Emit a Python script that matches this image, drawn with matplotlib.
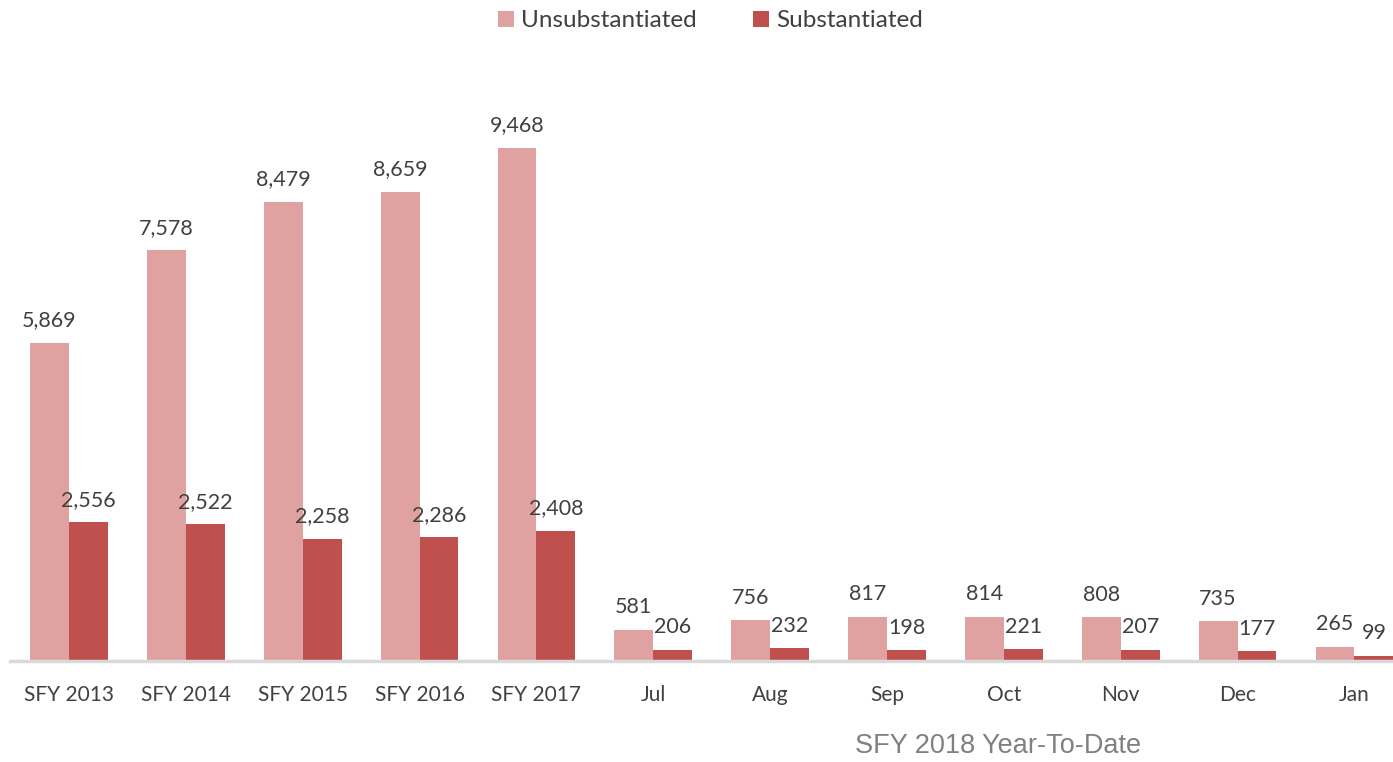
import matplotlib.pyplot as plt
import numpy as np

categories = ['SFY 2013', 'SFY 2014', 'SFY 2015', 'SFY 2016', 'SFY 2017',
              'Jul', 'Aug', 'Sep', 'Oct', 'Nov', 'Dec', 'Jan']
unsubstantiated = [5869, 7578, 8479, 8659, 9468, 581, 756, 817, 814, 808, 735, 265]
substantiated = [2556, 2522, 2258, 2286, 2408, 206, 232, 198, 221, 207, 177, 99]

c_unsub = '#E0A1A1'
c_sub = '#C0504D'
txt = '#404040'

plt.rcParams['font.family'] = ['Lato', 'DejaVu Sans']

fig = plt.figure(figsize=(13.93, 7.62), dpi=100)
ax = fig.add_axes([10 / 1393, 101 / 762, 1 - 10 / 1393, 569 / 762])

x = np.arange(len(categories))
w = 0.333
b1 = ax.bar(x - w / 2, unsubstantiated, w, color=c_unsub, label='Unsubstantiated')
b2 = ax.bar(x + w / 2, substantiated, w, color=c_sub, label='Substantiated')

for bars, vals in [(b1, unsubstantiated), (b2, substantiated)]:
    for b, v in zip(bars, vals):
        ax.annotate(f'{v:,}', (b.get_x() + b.get_width() / 2, v),
                    xytext=(0, 9), textcoords='offset points',
                    ha='center', va='bottom', fontsize=15.5, color=txt)

ax.set_xlim(-0.505, 11.33)
ax.set_ylim(0, 10500)
ax.set_xticks(x)
ax.set_xticklabels(categories, fontsize=15, color=txt)
ax.tick_params(axis='x', length=0, pad=17)
ax.set_yticks([])
for s in ['top', 'right', 'left']:
    ax.spines[s].set_visible(False)
ax.spines['bottom'].set_color('#D9D9D9')
ax.spines['bottom'].set_linewidth(2.5)

fig.legend(loc='upper center', bbox_to_anchor=(0.51, 1.015), ncol=2, frameon=False,
           fontsize=17.5, handlelength=0.65, handleheight=0.65, columnspacing=2.3,
           handletextpad=0.3, labelcolor=txt)

fig.text(998 / 1393, 1 - 746 / 762, 'SFY 2018 Year-To-Date', ha='center', va='center',
         fontsize=19.5, color='#808080', family=['Liberation Sans', 'DejaVu Sans'])

fig.savefig('out.png', dpi=100)
